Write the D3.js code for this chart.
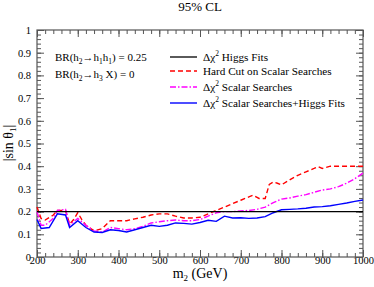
<!DOCTYPE html>
<html>
<head>
<meta charset="utf-8">
<script src="https://cdn.jsdelivr.net/npm/d3@7"></script>
<style>
  body { margin: 0; background: #fff; }
</style>
</head>
<body>
<div id="chart"></div>
<script>
// Data
var higgsM = [200, 1000];
var higgsV = [0.2, 0.2];

var hardM = [200, 210, 220, 240, 250, 270, 280, 290, 300, 310, 320, 340, 360, 380, 400, 420, 440, 460, 480, 500, 520, 540, 560, 580, 600, 620, 640, 660, 680, 700, 720, 730, 745, 760, 770, 780, 790, 800, 820, 840, 860, 880, 890, 900, 920, 940, 1000];
var hardV = [0.22, 0.17, 0.163, 0.185, 0.205, 0.205, 0.145, 0.165, 0.195, 0.165, 0.14, 0.115, 0.125, 0.16, 0.16, 0.16, 0.168, 0.175, 0.185, 0.19, 0.19, 0.18, 0.172, 0.172, 0.175, 0.19, 0.205, 0.22, 0.235, 0.25, 0.265, 0.272, 0.258, 0.258, 0.32, 0.33, 0.325, 0.318, 0.34, 0.36, 0.375, 0.39, 0.398, 0.39, 0.4, 0.4, 0.4];

var scalarM = [200, 210, 220, 240, 250, 270, 280, 300, 320, 340, 360, 380, 400, 420, 440, 460, 480, 500, 520, 540, 560, 580, 600, 620, 640, 660, 680, 700, 720, 740, 760, 780, 800, 820, 840, 860, 880, 900, 920, 940, 960, 980, 1000];
var scalarV = [0.2, 0.14, 0.14, 0.17, 0.205, 0.21, 0.14, 0.17, 0.14, 0.115, 0.11, 0.13, 0.125, 0.12, 0.125, 0.135, 0.15, 0.155, 0.16, 0.163, 0.16, 0.16, 0.165, 0.18, 0.195, 0.2, 0.2, 0.203, 0.205, 0.21, 0.22, 0.24, 0.255, 0.26, 0.268, 0.275, 0.285, 0.295, 0.3, 0.31, 0.325, 0.345, 0.37];

var combM = [200, 210, 230, 250, 270, 280, 300, 320, 340, 360, 380, 400, 420, 440, 460, 480, 500, 520, 540, 560, 580, 600, 620, 640, 660, 680, 700, 720, 740, 760, 780, 800, 820, 840, 860, 880, 900, 920, 940, 960, 980, 1000];
var combV = [0.165, 0.126, 0.13, 0.19, 0.185, 0.13, 0.16, 0.13, 0.11, 0.108, 0.12, 0.117, 0.11, 0.12, 0.13, 0.14, 0.135, 0.14, 0.15, 0.148, 0.145, 0.152, 0.162, 0.157, 0.18, 0.172, 0.173, 0.17, 0.172, 0.178, 0.195, 0.208, 0.21, 0.212, 0.215, 0.22, 0.222, 0.226, 0.232, 0.238, 0.245, 0.251];

var xTicks = [200, 300, 400, 500, 600, 700, 800, 900, 1000];
var yTicks = [0, 0.1, 0.2, 0.3, 0.4, 0.5, 0.6, 0.7, 0.8, 0.9, 1];

var legendLabels = ["Δχ² Higgs Fits", "Hard Cut on Scalar Searches", "Δχ² Scalar Searches", "Δχ² Scalar Searches+Higgs Fits"];

// Size
var width = 374, height = 287;
var padL = 37, padR = 363, padT = 30, padB = 257;
var serif = "'Liberation Serif', 'Times New Roman', serif";

var svg = d3.select("#chart").append("svg")
  .attr("width", width).attr("height", height)
  .attr("font-family", serif);

var x = d3.scaleLinear().domain([200, 1000]).range([padL, padR]);
var y = d3.scaleLinear().domain([0, 1]).range([padB, padT]);

var xMinor = d3.range(200, 1001, 20);
var yMinor = d3.range(0, 1.001, 0.02);

// axes: major and minor ticks pointing inward
function tickAxis(axisFn, scale, major, minor, pos, labels) {
  var gMinor = svg.append("g").attr("transform", pos)
    .call(axisFn(scale).tickValues(minor).tickSize(-4).tickFormat(""));
  var gMajor = svg.append("g").attr("transform", pos)
    .call(axisFn(scale).tickValues(major).tickSize(-7).tickPadding(3)
      .tickFormat(labels ? d3.format("") : ""));
  [gMinor, gMajor].forEach(function(g) {
    g.attr("font-family", serif);
    g.select(".domain").remove();
    g.selectAll("line").attr("stroke", "#555").attr("stroke-width", 1);
  });
  gMajor.selectAll("text").attr("font-size", 10.5).attr("fill", "#000");
  return gMajor;
}

var bx = tickAxis(d3.axisBottom, x, xTicks, xMinor, "translate(0," + padB + ")", true);
bx.selectAll("text").attr("y", 0).attr("dy", "0.71em");
tickAxis(d3.axisTop, x, xTicks, xMinor, "translate(0," + padT + ")", false);
var ly = tickAxis(d3.axisLeft, y, yTicks, yMinor, "translate(" + padL + ",0)", true);
ly.selectAll("text").attr("x", -6);
tickAxis(d3.axisRight, y, yTicks, yMinor, "translate(" + padR + ",0)", false);

// frame
svg.append("rect")
  .attr("x", padL).attr("y", padT)
  .attr("width", padR - padL).attr("height", padB - padT)
  .attr("fill", "none").attr("stroke", "#555").attr("stroke-width", 1.2);

// series
var line = d3.line().x(function(d) { return x(d[0]); }).y(function(d) { return y(d[1]); });
function zip(a, b) { return a.map(function(v, i) { return [v, b[i]]; }); }

var series = [
  { m: higgsM, v: higgsV, color: "#000", dash: null, w: 1.3 },
  { m: hardM, v: hardV, color: "#ff0000", dash: "5,3", w: 1.4 },
  { m: scalarM, v: scalarV, color: "#ff00ff", dash: "6,2,1.5,2", w: 1.4 },
  { m: combM, v: combV, color: "#0000ff", dash: null, w: 1.4 }
];

svg.append("g").selectAll("path").data([series[1], series[2], series[3], series[0]]).join("path")
  .attr("d", function(s) { return line(zip(s.m, s.v)); })
  .attr("fill", "none")
  .attr("stroke", function(s) { return s.color; })
  .attr("stroke-width", function(s) { return s.w; })
  .attr("stroke-dasharray", function(s) { return s.dash; });

// legend
var legY = [57, 71, 87, 103];
var leg = svg.append("g");
series.forEach(function(s, i) {
  leg.append("line")
    .attr("x1", 170).attr("x2", 197).attr("y1", legY[i]).attr("y2", legY[i])
    .attr("stroke", s.color).attr("stroke-width", s.w)
    .attr("stroke-dasharray", s.dash);
  var t = leg.append("text").attr("x", 203).attr("y", legY[i] + 4).attr("font-size", 11.2);
  var parts = legendLabels[i].split("²");
  if (parts.length > 1) {
    t.append("tspan").text(parts[0]);
    t.append("tspan").attr("dy", -5).attr("font-size", 7.5).text("2");
    t.append("tspan").attr("dy", 5).text(parts[1]);
  } else {
    t.text(parts[0]);
  }
});

// annotation
var a1 = svg.append("text").attr("x", 55).attr("y", 61).attr("font-size", 11);
a1.append("tspan").text("BR(h");
a1.append("tspan").attr("dy", 3).attr("font-size", 7.5).text("2");
a1.append("tspan").attr("dy", -3).text("→h");
a1.append("tspan").attr("dy", 3).attr("font-size", 7.5).text("1");
a1.append("tspan").attr("dy", -3).text("h");
a1.append("tspan").attr("dy", 3).attr("font-size", 7.5).text("1");
a1.append("tspan").attr("dy", -3).text(") = 0.25");

var a2 = svg.append("text").attr("x", 55).attr("y", 78).attr("font-size", 11);
a2.append("tspan").text("BR(h");
a2.append("tspan").attr("dy", 3).attr("font-size", 7.5).text("2");
a2.append("tspan").attr("dy", -3).text("→h");
a2.append("tspan").attr("dy", 3).attr("font-size", 7.5).text("3");
a2.append("tspan").attr("dy", -3).text(" X) = 0");

// title
svg.append("text").attr("x", 200).attr("y", 11).attr("text-anchor", "middle")
  .attr("font-size", 13).text("95% CL");

// x label
var xl = svg.append("text").attr("x", 200).attr("y", 278).attr("text-anchor", "middle").attr("font-size", 14);
xl.append("tspan").text("m");
xl.append("tspan").attr("dy", 3).attr("font-size", 9).text("2");
xl.append("tspan").attr("dy", -3).text(" (GeV)");

// y label
var yl = svg.append("text").attr("transform", "translate(13,143) rotate(-90)")
  .attr("text-anchor", "middle").attr("font-size", 14);
yl.append("tspan").text("|sin θ");
yl.append("tspan").attr("dy", 3).attr("font-size", 9).text("1");
yl.append("tspan").attr("dy", -3).text("|");
</script>
</body>
</html>
